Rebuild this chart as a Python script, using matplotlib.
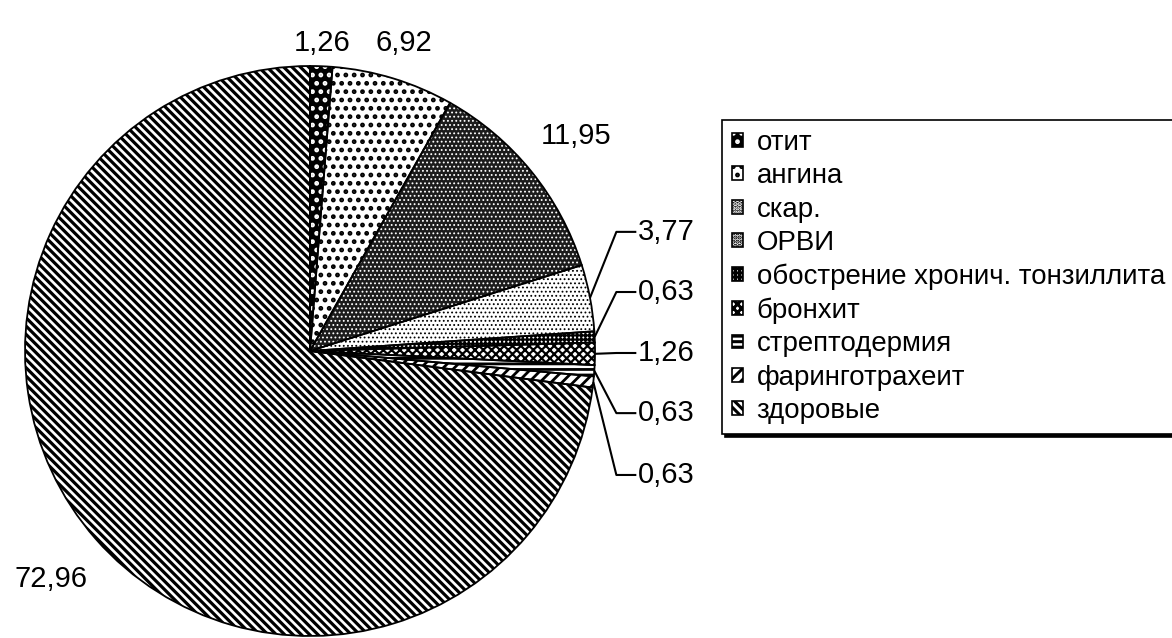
import matplotlib
matplotlib.use("Agg")
import matplotlib.pyplot as plt
from matplotlib.patches import Patch
import numpy as np

plt.rcParams['font.family'] = ['Liberation Sans', 'DejaVu Sans']
plt.rcParams['hatch.linewidth'] = 2.2

labels = ["отит", "ангина", "скар.", "ОРВИ", "обострение хронич. тонзиллита",
          "бронхит", "стрептодермия", "фаринготрахеит", "здоровые"]
values = [1.26, 6.92, 11.95, 3.77, 0.63, 1.26, 0.63, 0.63, 72.96]

# fill / hatch / hatch colour / hatch width per slice (black-and-white print look)
faces = ["black", "white", "#1c1c1c", "white", "white", "white", "white", "white", "white"]
hatches = ["..", "..", "....", "....", "++++", "xxxx", "---", "///", "\\\\\\\\"]
hatch_cols = ["white", "black", "white", "black", "black", "black", "black", "black", "black"]
hatch_lw = [2.2, 2.2, 0.8, 0.8, 1.6, 1.6, 2.0, 2.0, 2.3]

# label layout: radial distance for big slices, leader-line text height for small ones
big_dist = {0: 1.08, 1: 1.13, 2: 1.2, 8: 1.21}
small_y = {3: 0.418, 4: 0.207, 5: -0.007, 6: -0.218, 7: -0.435}


def style(p, f, h, hc, lw):
    p.set_facecolor(f)
    p.set_hatch(h)
    p.set_edgecolor(hc)
    if hasattr(p, "set_hatch_linewidth"):
        p.set_hatch_linewidth(lw)


fig = plt.figure(figsize=(11.72, 6.38), dpi=100)
ax = fig.add_axes([25 / 1172, 2 / 638, 570 / 1172, 570 / 638])

wedges, _ = ax.pie(values, startangle=90, counterclock=False,
                   wedgeprops=dict(linewidth=0))
for w, f, h, hc, lw in zip(wedges, faces, hatches, hatch_cols, hatch_lw):
    style(w, f, h, hc, lw)
# outlines on top
ax.pie(values, startangle=90, counterclock=False,
       wedgeprops=dict(fill=False, edgecolor="black", linewidth=1.3))

for i, w in enumerate(wedges):
    txt = ("%.2f" % values[i]).replace(".", ",")
    mid = np.deg2rad((w.theta1 + w.theta2) / 2)
    if i in big_dist:
        r = big_dist[i]
        ax.text(r * np.cos(mid), r * np.sin(mid), txt, fontsize=21,
                ha="center", va="center")
    else:
        x0, y0 = np.cos(mid), np.sin(mid)
        ty = small_y[i]
        ax.plot([x0, 1.075, 1.145], [y0, ty, ty], color="black", lw=1.5,
                clip_on=False, solid_capstyle="butt")
        ax.text(1.15, ty, txt, fontsize=21, ha="left", va="center")

ax.set_xlim(-1, 1)
ax.set_ylim(-1, 1)
ax.set_aspect("equal")
ax.axis("off")

handles = []
for f, h, hc, lw in zip(faces, hatches, hatch_cols, hatch_lw):
    p = Patch(linewidth=0)
    style(p, f, h, hc, lw)
    handles.append((p, Patch(fill=False, edgecolor="black", linewidth=1.2)))
leg = fig.legend(handles, labels, loc="upper left",
                 bbox_to_anchor=(722 / 1172, 1 - 120 / 638),
                 fontsize=19.9, frameon=True, fancybox=False,
                 handlelength=0.4, handleheight=0.4, handletextpad=0.5,
                 labelspacing=0.27, borderpad=0.35, borderaxespad=0,
                 shadow={"color": "black", "alpha": 1})
leg.get_frame().set_edgecolor("black")
leg.get_frame().set_linewidth(1.2)

plt.savefig("out.png", dpi=100)
